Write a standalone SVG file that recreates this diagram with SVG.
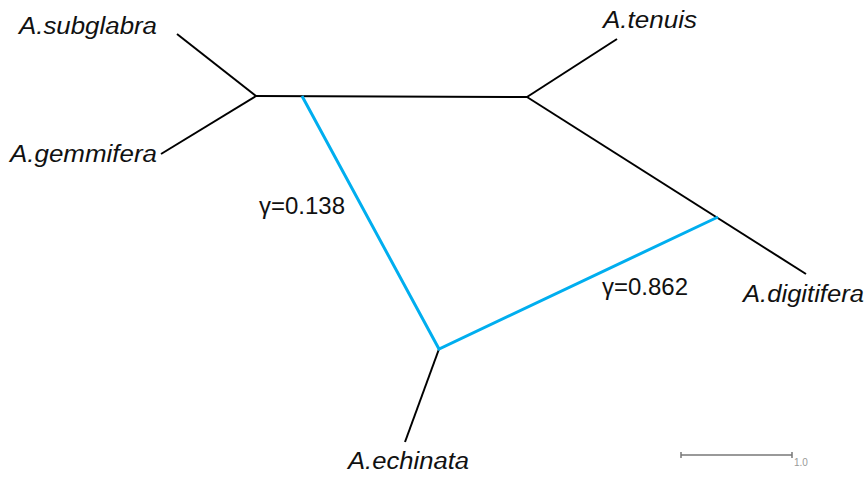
<svg xmlns="http://www.w3.org/2000/svg" width="867" height="477" viewBox="0 0 867 477">
<style>
.e{stroke:#000;stroke-width:2;fill:none;stroke-linecap:butt}
.h{stroke:#00AEEF;stroke-width:3;fill:none;stroke-linejoin:miter}
.t{font-family:"Liberation Sans",Arial,sans-serif;font-style:italic;font-size:23px;fill:#111}
.g{font-family:"Liberation Sans",Arial,sans-serif;font-size:24px;fill:#111}
.s{stroke:#777;stroke-width:1.5;fill:none}
</style>
<rect width="867" height="477" fill="#fff"/>
<g id="connectors">
<line class="e" x1="177" y1="34" x2="256" y2="96"/>
<line class="e" x1="161" y1="154" x2="256" y2="96"/>
<line class="e" x1="256" y1="96" x2="527" y2="97"/>
<line class="e" x1="527" y1="97" x2="617" y2="39"/>
<line class="e" x1="527" y1="97" x2="806" y2="274"/>
<line class="e" x1="439" y1="349" x2="405" y2="442"/>
<polyline class="h" points="302,96 439,349 718,217"/>
</g>
<g id="n-subglabra"><text class="t" x="19" y="34" textLength="138" lengthAdjust="spacingAndGlyphs">A.subglabra</text></g>
<g id="n-gemmifera"><text class="t" x="10" y="162" textLength="147" lengthAdjust="spacingAndGlyphs">A.gemmifera</text></g>
<g id="n-tenuis"><text class="t" x="603" y="28" textLength="94" lengthAdjust="spacingAndGlyphs">A.tenuis</text></g>
<g id="n-digitifera"><text class="t" x="743" y="302" textLength="121" lengthAdjust="spacingAndGlyphs">A.digitifera</text></g>
<g id="n-echinata"><text class="t" x="348" y="469" textLength="121" lengthAdjust="spacingAndGlyphs">A.echinata</text></g>
<g id="labels">
<text class="g" x="259" y="214" textLength="86" lengthAdjust="spacingAndGlyphs">γ=0.138</text>
<text class="g" x="602" y="295" textLength="86" lengthAdjust="spacingAndGlyphs">γ=0.862</text>
</g>
<g id="scale">
<line class="s" x1="681" y1="455" x2="792" y2="455"/>
<line class="s" x1="681" y1="452" x2="681" y2="458"/>
<line class="s" x1="792" y1="452" x2="792" y2="458"/>
<text x="794" y="466" font-family="Liberation Sans,Arial,sans-serif" font-size="10" fill="#999">1.0</text>
</g>
</svg>
